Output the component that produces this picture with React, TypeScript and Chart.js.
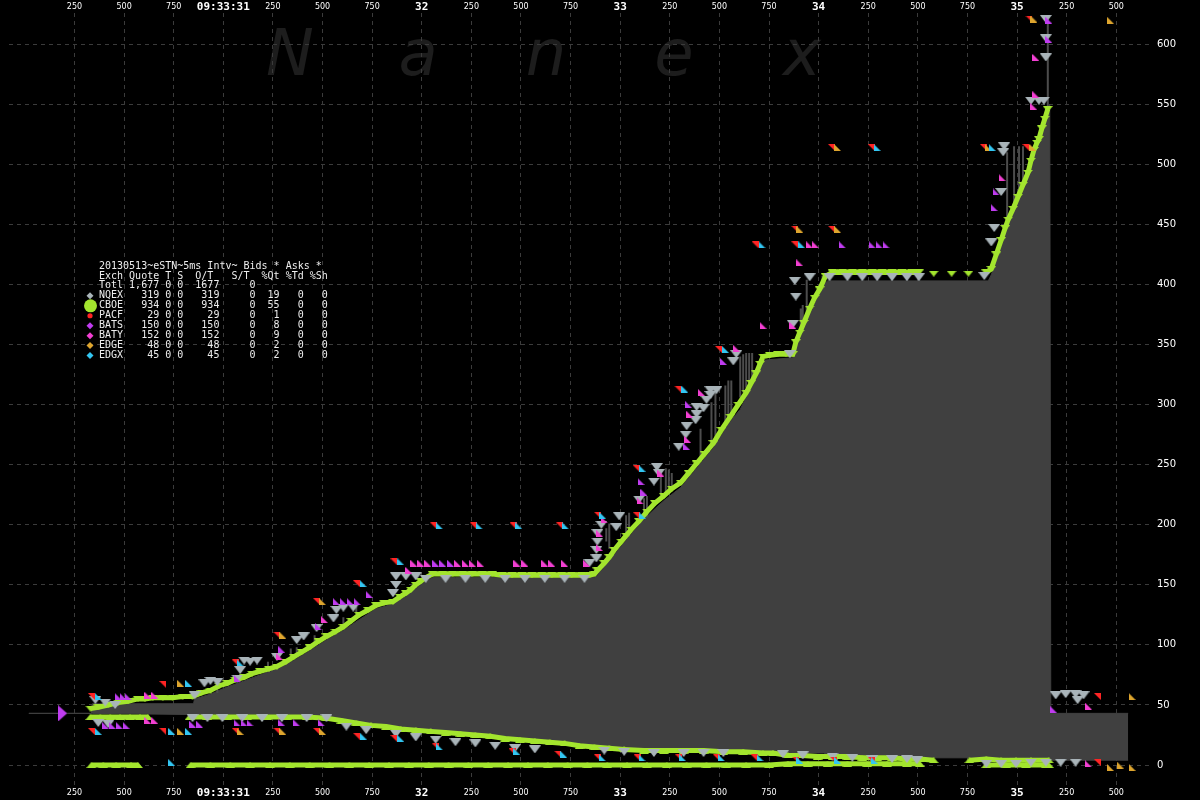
import React, { useEffect, useRef } from 'react';
import { Chart, registerables } from 'chart.js';

Chart.register(...registerables);

// ---------- colours ----------
const GREEN = '#a3e52e';
const GREY_Q = '#a9b4b9';
const RED = '#ff2424';
const PURPLE = '#c03cf0';
const PINK = '#f23fd2';
const ORANGE = '#dea52e';
const CYAN = '#33c6f2';
const SPREAD = '#404040';

// ---------- axis ticks (ms after 09:33:30.000) ----------
const xTickMs = [250, 500, 750, 1000, 1250, 1500, 1750, 2000, 2250, 2500, 2750, 3000, 3250, 3500, 3750, 4000, 4250, 4500, 4750, 5000, 5250, 5500];
const xSecondLabels = ['09:33:30', '09:33:31', '32', '33', '34', '35'];
const xSubLabels = ['', '250', '500', '750'];
const yTicks = [0, 50, 100, 150, 200, 250, 300, 350, 400, 450, 500, 550, 600];

// ---------- spread (grey area) ----------
const spreadMs = [20, 335, 340, 850, 855, 935, 1020, 1105, 1185, 1270, 1355, 1435, 1520, 1605, 1685, 1770, 1855, 1920, 1970, 2020, 2055, 2170, 2340, 2520, 2760, 2870, 2885, 2970, 3055, 3135, 3180, 3220, 3305, 3385, 3470, 3555, 3605, 3635, 3685, 3720, 3870, 3885, 3955, 4005, 4025, 4045, 4235, 4445, 4855, 4870, 4920, 4955, 5005, 5055, 5085, 5120, 5155, 5165, 5170, 5560];
const spreadHigh = [43, 43, 51, 51, 55, 59, 65, 70, 75, 80, 87, 95, 104, 112, 121, 130, 134, 140, 147, 153, 156, 156, 156, 156, 156, 156, 158, 175, 192, 207, 214, 220, 231, 247, 264, 286, 296, 306, 322, 337, 339, 348, 375, 392, 400, 403, 403, 403, 403, 408, 432, 450, 470, 490, 508, 528, 546, 550, 43, 43];
const spreadLow = [43, 43, 43, 42, 42, 42, 42, 42, 42, 42, 41, 41, 41, 38, 36, 34, 32, 31, 30, 29, 28, 26, 24, 21, 17, 15, 15, 14, 13, 13, 12, 12, 12, 12, 12, 12, 12, 12, 11, 11, 10, 10, 10, 10, 10, 9, 8, 6, 6, 6, 6, 6, 5, 5, 5, 5, 5, 5, 4, 4];

// ---------- CBOE (green) ----------
const cboeUpperMs = [330, 370, 420, 470, 520, 570, 605, 645, 695, 745, 795, 845, 890, 935, 980, 1020, 1060, 1105, 1145, 1185, 1230, 1270, 1315, 1355, 1395, 1435, 1480, 1520, 1565, 1605, 1645, 1685, 1730, 1770, 1810, 1855, 1890, 1920, 1945, 1970, 1995, 2020, 2055, 2105, 2155, 2205, 2255, 2305, 2355, 2405, 2455, 2505, 2555, 2605, 2655, 2705, 2755, 2805, 2845, 2870, 2885, 2920, 2945, 2970, 3005, 3030, 3055, 3095, 3135, 3175, 3220, 3260, 3305, 3345, 3385, 3425, 3470, 3510, 3555, 3595, 3635, 3660, 3685, 3705, 3720, 3755, 3795, 3835, 3870, 3885, 3905, 3925, 3955, 3980, 4005, 4035, 4070, 4120, 4170, 4220, 4270, 4320, 4370, 4420, 4470, 4505, 4580, 4670, 4755, 4845, 4870, 4895, 4920, 4940, 4955, 4980, 5005, 5030, 5055, 5070, 5085, 5100, 5110, 5125, 5140, 5155];
const cboeUpperVal = [47, 48, 50, 52, 53, 55, 55, 56, 56, 56, 57, 57, 60, 62, 66, 68, 71, 73, 76, 78, 80, 82, 86, 90, 94, 98, 103, 107, 111, 115, 120, 125, 129, 133, 135, 136, 140, 143, 146, 150, 153, 156, 159, 159, 159, 159, 159, 159, 159, 158, 158, 158, 158, 158, 158, 158, 158, 158, 158, 159, 162, 168, 173, 179, 186, 191, 196, 203, 211, 218, 224, 230, 235, 243, 251, 259, 268, 279, 290, 300, 310, 318, 326, 334, 340, 341, 342, 342, 342, 352, 360, 368, 380, 389, 396, 407, 410, 410, 410, 410, 410, 410, 410, 410, 410, 410, 409, 409, 409, 410, 413, 425, 437, 447, 454, 463, 473, 483, 493, 503, 512, 518, 521, 530, 538, 546];

const cboeMidMs = [330, 380, 430, 480, 530, 580, 620, 830, 920, 1020, 1120, 1220, 1320, 1420, 1520, 1595, 1670, 1745, 1820, 1895, 1970, 2045, 2120, 2195, 2270, 2345, 2420, 2495, 2570, 2645, 2720, 2795, 2870, 2945, 3020, 3120, 3220, 3320, 3420, 3520, 3620, 3720, 3770, 3845, 3920, 3995, 4070, 4145, 4220, 4295, 4370, 4445, 4510, 4580, 4760, 4845, 4920, 4995, 5070, 5160];
const cboeMidVal = [40, 40, 40, 40, 40, 40, 40, 40, 40, 40, 40, 40, 40, 40, 39, 37, 35, 33, 32, 30, 29, 28, 27, 26, 25, 24, 22, 21, 20, 19, 18, 16, 15, 14, 13, 12, 12, 12, 12, 11, 11, 10, 10, 8, 8, 7, 7, 7, 6, 6, 6, 5, 5, 4, 4, 5, 4, 4, 4, 4];

const cboeZeroMs = [335, 395, 460, 535, 570, 835, 935, 1035, 1135, 1235, 1335, 1435, 1535, 1635, 1735, 1835, 1935, 2035, 2135, 2235, 2335, 2435, 2535, 2635, 2735, 2835, 2935, 3035, 3135, 3235, 3335, 3435, 3535, 3635, 3750, 3845, 3945, 4045, 4145, 4245, 4345, 4445, 4510, 4845, 4945, 5045, 5145, 5160];
const cboeZeroVal = [0, 0, 0, 0, 0, 0, 0, 0, 0, 0, 0, 0, 0, 0, 0, 0, 0, 0, 0, 0, 0, 0, 0, 0, 0, 0, 0, 0, 0, 0, 0, 0, 0, 0, 0, 1, 1, 1, 1, 1, 1, 1, 1, 0, 0, 0, 0, 0];

// ---------- NQEX (grey) ----------
const nqexMs = [355, 405, 455, 370, 420, 855, 905, 935, 970, 1070, 1085, 1105, 1135, 1170, 1270, 1370, 1405, 1470, 1555, 1570, 1605, 1655, 1855, 1870, 1870, 1920, 1970,
  2020, 2120, 2220, 2320, 2420, 2520, 2620, 2720, 2820,
  845, 920, 995, 1095, 1195, 1295, 1420, 1520, 1620, 1720, 1870, 1970, 2070, 2170, 2270, 2370, 2470, 2570, 2920, 3020, 3170, 3320, 3420, 3520, 3820, 3920, 4070, 4170, 4270, 4370, 4445, 4495,
  2845, 2880, 2880, 2885, 2885, 2905, 2980, 2995, 3095, 3170, 3195, 3185, 3295, 3330, 3335, 3380, 3385, 3385, 3420, 3435, 3455, 3455, 3485, 3570, 3585, 3855, 3870, 3885, 3880, 3955,
  4055, 4145, 4220, 4295, 4370, 4445, 4505, 4835,
  4870, 4885, 4920, 4930, 4935, 5070, 5110, 5135, 5145, 5145, 5145,
  5195, 5245, 5295, 5335, 5305, 4845, 4920, 4995, 5070, 5145, 5220, 5295];
const nqexVal = [54, 52, 50, 35, 34, 58, 68, 70, 69, 72, 79, 87, 86, 87, 90, 104, 107, 114, 122, 129, 131, 131, 143, 150, 157, 157, 157,
  155, 155, 155, 155, 155, 155, 155, 155, 155,
  39, 39, 39, 39, 39, 39, 39, 39, 32, 29, 26, 23, 21, 19, 18, 16, 14, 13, 12, 11, 10, 10, 10, 10, 9, 8, 7, 6, 5, 5, 5, 4,
  168, 172, 179, 186, 193, 200, 198, 207, 221, 236, 243, 248, 265, 275, 282, 287, 292, 298, 297, 304, 308, 312, 312, 336, 342, 342, 367, 390, 403, 406,
  406, 406, 406, 406, 406, 406, 406, 407,
  435, 447, 477, 510, 515, 553, 553, 553, 589, 605, 621,
  58, 59, 59, 58, 54, 1, 1, 1, 2, 2, 2, 2];

// ---------- BATS (purple) ----------
const batsMs = [470, 495, 520, 405, 440, 475, 510, 845, 880, 1070, 1105, 1135, 1295, 1370, 1495, 1070, 1295, 1480, 1570, 1605, 1640, 1675, 1735, 2070, 2105, 2145, 3105, 3120, 3345, 3335, 3520, 4120, 4270, 4305, 4340, 4885, 4895, 5160, 5160, 5185];
const batsVal = [57, 57, 57, 33, 33, 33, 33, 34, 34, 35, 35, 35, 35, 35, 35, 72, 96, 115, 136, 136, 136, 136, 142, 168, 168, 168, 236, 227, 300, 265, 336, 433, 433, 433, 433, 464, 477, 620, 604, 46];
const batsOpenMs = [190];
const batsOpenVal = [43];

// ---------- BATY (pink) ----------
const batyMs = [620, 655, 620, 655, 1285, 1510, 1935, 1960, 1995, 2030, 2180, 2220, 2255, 2295, 2480, 2520, 2620, 2655, 2720, 2830, 2895, 2895, 2920, 3100, 3205, 3350, 3410, 3340, 3585, 3955, 3985, 3905, 3720, 3870, 4925, 5095, 5095, 5085, 5360, 5360];
const batyVal = [58, 58, 37, 37, 90, 121, 162, 168, 168, 168, 168, 168, 168, 168, 168, 168, 168, 168, 168, 168, 181, 193, 204, 220, 243, 292, 310, 271, 347, 433, 433, 418, 366, 366, 489, 589, 558, 548, 49, 1];

// ---------- PACF (red) ----------
const pacfMs = [335, 335, 695, 695, 1060, 1060, 1270, 1270, 1470, 1470, 1670, 1670, 1860, 1860, 2060, 2260, 2460, 2695, 2070, 2455, 2685, 2885, 3085, 3295, 3485, 3675, 3885, 4075, 4265, 2885, 3080, 3080, 3290, 3495, 3680, 3880, 3880, 4065, 4065, 4265, 4830, 5045, 5060, 5405, 5405];
const pacfVal = [57, 28, 67, 28, 85, 28, 108, 28, 136, 28, 151, 24, 169, 22, 199, 199, 199, 199, 15, 11, 9, 6, 6, 6, 6, 6, 4, 4, 4, 208, 208, 247, 313, 346, 433, 433, 446, 446, 514, 514, 514, 514, 621, 57, 2];

// ---------- EDGX (cyan) ----------
const edgxMs = [370, 370, 740, 825, 825, 1085, 1705, 1705, 1895, 1895, 2090, 2290, 2490, 2725, 2910, 3110, 3110, 3325, 3530, 3715, 3915, 4295, 4875, 740, 2090, 2480, 2715, 2910, 3110, 3315, 3510, 3705, 3905, 4095, 4280];
const edgxVal = [57, 28, 28, 28, 68, 85, 151, 24, 169, 22, 199, 199, 199, 199, 208, 208, 247, 313, 346, 433, 433, 514, 514, 2, 15, 11, 9, 6, 6, 6, 6, 6, 4, 4, 4];

// ---------- EDGE (orange) ----------
const edgeMs = [785, 785, 1085, 1300, 1300, 1500, 1500, 3905, 4095, 4095, 4855, 5080, 5085, 5470, 5470, 5580, 5580, 5520];
const edgeVal = [68, 28, 28, 108, 28, 136, 28, 446, 446, 514, 514, 514, 621, 620, -2, -2, 57, 0];

// ---------- vertical sticks ----------
const stickMs = [970, 1225, 1340, 1370, 1460, 1605, 1670, 2930, 2945, 3030, 3045, 3120, 3135, 3205, 3230, 3245, 3260, 3405, 3460, 3480, 3530, 3545, 3560, 3605, 3620, 3635, 3650, 3665, 3910, 3920, 3940, 4020, 4950, 4985, 5010, 5030, 5155];
const stickLo = [60, 78, 88, 90, 100, 116, 125, 186, 180, 190, 190, 205, 206, 221, 226, 228, 230, 253, 265, 268, 284, 286, 292, 306, 310, 314, 318, 320, 361, 361, 370, 398, 446, 460, 470, 480, 546];
const stickHi = [66, 86, 97, 98, 108, 123, 132, 197, 201, 208, 210, 222, 224, 245, 247, 246, 243, 280, 302, 310, 316, 320, 320, 340, 342, 343, 343, 343, 380, 383, 404, 407, 510, 515, 515, 515, 621];

// ---------- legend table ----------
const legendTitle = '20130513~eSTN~5ms Intv~ Bids * Asks *';
const legendHeader = 'Exch Quote T S  O/T   S/T  %Qt %Td %Sh';
const totalQuotes = '1,677';
const totalOT = 1677;
const exchNames = ['NQEX', 'CBOE', 'PACF', 'BATS', 'BATY', 'EDGE', 'EDGX'];
const exchQuotes = [319, 934, 29, 150, 152, 48, 45];
const exchQtPct = [19, 55, 1, 8, 9, 2, 2];
const exchColors = [GREY_Q, GREEN, RED, PURPLE, PINK, ORANGE, CYAN];

const watermark = 'Nanex';

// ---------- helpers ----------
const pts = (xs: number[], ys: number[]) => xs.map((x, i) => ({ x, y: ys[i] }));

function glyph(kind: string, color: string, w: number, h: number): HTMLCanvasElement {
  const c = document.createElement('canvas');
  c.width = w;
  c.height = h;
  const g = c.getContext('2d')!;
  g.fillStyle = color;
  g.beginPath();
  if (kind === 'down') { g.moveTo(0, 0); g.lineTo(w, 0); g.lineTo(w / 2, h); }
  else if (kind === 'up') { g.moveTo(0, h); g.lineTo(w, h); g.lineTo(w / 2, 0); }
  else if (kind === 'bl') { g.moveTo(0, 0); g.lineTo(0, h); g.lineTo(w, h); }
  else if (kind === 'tr') { g.moveTo(0, 0); g.lineTo(w, 0); g.lineTo(w, h); }
  else if (kind === 'right') { g.moveTo(0, 0); g.lineTo(w, h / 2); g.lineTo(0, h); }
  g.closePath();
  g.fill();
  return c;
}

const gapSegment = (gap: number, color: string) => ({
  borderColor: (ctx: any) => (ctx.p1.parsed.x - ctx.p0.parsed.x > gap ? 'rgba(0,0,0,0)' : color),
});

const bgPlugin = {
  id: 'nanexBg',
  beforeDraw(chart: any) {
    const { ctx, width, height } = chart;
    ctx.save();
    ctx.fillStyle = '#000';
    ctx.fillRect(0, 0, width, height);
    ctx.font = 'italic 64px "DejaVu Sans"';
    ctx.fillStyle = '#1d1d1d';
    ctx.textAlign = 'center';
    ctx.textBaseline = 'alphabetic';
    watermark.split('').forEach((ch, i) => ctx.fillText(ch, 290 + 128 * i, 75));
    ctx.restore();
  },
};

const legendPlugin = {
  id: 'nanexLegend',
  afterDraw(chart: any) {
    const ctx = chart.ctx;
    const rows = [
      legendTitle,
      legendHeader,
      'Totl' + totalQuotes.padStart(6) + ' 0 0' + String(totalOT).padStart(6) + '     0',
      ...exchNames.map((n, i) =>
        n.padEnd(4) + String(exchQuotes[i]).padStart(6) + ' 0 0' + String(exchQuotes[i]).padStart(6) + '     0' +
        String(exchQtPct[i]).padStart(4) + '   0   0'),
    ];
    ctx.save();
    ctx.font = '10px "DejaVu Sans Mono"';
    ctx.fillStyle = '#eeeeee';
    ctx.textBaseline = 'middle';
    ctx.textAlign = 'left';
    rows.forEach((r, i) => ctx.fillText(r, 99, 266 + 9.95 * i));
    exchNames.forEach((n, i) => {
      const y = 266 + 9.95 * (i + 3);
      const x = 90;
      ctx.fillStyle = exchColors[i];
      ctx.beginPath();
      if (n === 'CBOE') ctx.arc(x + 0.5, y, 6.5, 0, Math.PI * 2);
      else if (n === 'PACF') ctx.arc(x, y, 2.6, 0, Math.PI * 2);
      else { ctx.moveTo(x, y - 3.5); ctx.lineTo(x + 3.5, y); ctx.lineTo(x, y + 3.5); ctx.lineTo(x - 3.5, y); }
      ctx.closePath();
      ctx.fill();
    });
    ctx.restore();
  },
};

export default function App() {
  const ref = useRef<HTMLCanvasElement | null>(null);

  useEffect(() => {
    document.body.style.margin = '0';
    document.body.style.background = '#000';
    const canvas = ref.current;
    if (!canvas) return;

    const gDownGreen = glyph('down', GREEN, 10, 6);
    const gUpGreen = glyph('up', GREEN, 10, 6);
    const gDownGrey = glyph('down', GREY_Q, 12, 8);
    const gPurple = glyph('bl', PURPLE, 7, 7);
    const gPurpleOpen = glyph('right', PURPLE, 9, 16);
    const gPink = glyph('bl', PINK, 7, 7);
    const gRed = glyph('tr', RED, 7, 7);
    const gCyan = glyph('bl', CYAN, 7, 7);
    const gOrange = glyph('bl', ORANGE, 7, 7);

    const markers = (label: string, xs: number[], ys: number[], style: HTMLCanvasElement, order: number) => ({
      label,
      data: pts(xs, ys),
      showLine: false,
      pointStyle: style,
      pointRadius: 3,
      pointHoverRadius: 3,
      order,
    });

    const stickData: any[] = [];
    stickMs.forEach((x, i) => {
      stickData.push({ x, y: stickLo[i] }, { x, y: stickHi[i] }, { x, y: null });
    });

    const xFont = (c: any) =>
      c.tick && c.tick.value % 1000 === 0
        ? { family: '"DejaVu Sans Mono"', size: 11, weight: 'bold' as const, lineHeight: '12px' }
        : { family: '"DejaVu Sans"', size: 8, lineHeight: '12px' };

    const xLabel = (value: any) => {
      const v = Number(value);
      const r = v % 1000;
      return r === 0 ? xSecondLabels[Math.round(v / 1000)] : xSubLabels[r / 250];
    };

    const chart = new Chart(canvas, {
      type: 'line',
      data: {
        datasets: [
          {
            label: 'spreadHigh', data: pts(spreadMs, spreadHigh), fill: '+1',
            backgroundColor: SPREAD, borderColor: SPREAD, borderWidth: 1, pointRadius: 0, order: 20,
          },
          {
            label: 'spreadLow', data: pts(spreadMs, spreadLow), fill: false,
            borderColor: SPREAD, borderWidth: 1, pointRadius: 0, order: 19,
          },
          {
            label: 'sticks', data: stickData, borderColor: '#4c4c4c', borderWidth: 2, pointRadius: 0,
            spanGaps: false, order: 18,
          },
          {
            label: 'CBOE upper', data: pts(cboeUpperMs, cboeUpperVal), borderColor: GREEN, borderWidth: 5,
            segment: gapSegment(60, GREEN), pointStyle: gDownGreen, pointRadius: 3, order: 10,
          },
          {
            label: 'CBOE mid', data: pts(cboeMidMs, cboeMidVal), borderColor: GREEN, borderWidth: 5,
            segment: gapSegment(150, GREEN), pointStyle: gUpGreen, pointRadius: 3, order: 10,
          },
          {
            label: 'CBOE zero', data: pts(cboeZeroMs, cboeZeroVal), borderColor: GREEN, borderWidth: 5,
            segment: gapSegment(150, GREEN), pointStyle: gUpGreen, pointRadius: 3, order: 10,
          },
          markers('NQEX', nqexMs, nqexVal, gDownGrey, 8),
          markers('BATS', batsMs, batsVal, gPurple, 4),
          markers('BATS open', batsOpenMs, batsOpenVal, gPurpleOpen, 4),
          markers('BATY', batyMs, batyVal, gPink, 5),
          markers('PACF', pacfMs, pacfVal, gRed, 3),
          markers('EDGX', edgxMs, edgxVal, gCyan, 2),
          markers('EDGE', edgeMs, edgeVal, gOrange, 2),
        ] as any,
      },
      options: {
        responsive: false,
        animation: false,
        events: [],
        layout: { padding: 0 },
        plugins: { legend: { display: false }, tooltip: { enabled: false }, title: { display: false } },
        scales: {
          x: {
            type: 'linear', position: 'bottom', min: -80, max: 5670,
            afterBuildTicks: (s: any) => { s.ticks = xTickMs.map((v) => ({ value: v })); },
            afterFit: (s: any) => { s.height = 13; },
            grid: { color: '#3b3b3b', drawTicks: false, lineWidth: 1 },
            border: { display: false, dash: [4, 4] },
            ticks: { color: '#ffffff', padding: 0, autoSkip: false, maxRotation: 0, minRotation: 0, font: xFont as any, callback: xLabel },
          },
          xTop: {
            type: 'linear', position: 'top', min: -80, max: 5670,
            afterBuildTicks: (s: any) => { s.ticks = xTickMs.map((v) => ({ value: v })); },
            afterFit: (s: any) => { s.height = 12; },
            grid: { display: false, drawTicks: false },
            border: { display: false },
            ticks: { color: '#ffffff', padding: 0, autoSkip: false, maxRotation: 0, minRotation: 0, font: xFont as any, callback: xLabel },
          },
          y: {
            type: 'linear', position: 'right', min: -18.3, max: 626,
            afterBuildTicks: (s: any) => { s.ticks = yTicks.map((v) => ({ value: v })); },
            afterFit: (s: any) => { s.width = 50; },
            grid: { color: '#3b3b3b', drawTicks: false, lineWidth: 1 },
            border: { display: false, dash: [4, 4] },
            ticks: { color: '#ffffff', padding: 7, font: { family: '"DejaVu Sans"', size: 10 } },
          },
        },
      } as any,
      plugins: [bgPlugin, legendPlugin],
    });

    return () => chart.destroy();
  }, []);

  return (
    <div style={{ width: 1200, height: 800, background: '#000' }}>
      <canvas ref={ref} width={1200} height={800} style={{ display: 'block', width: 1200, height: 800 }} />
    </div>
  );
}
